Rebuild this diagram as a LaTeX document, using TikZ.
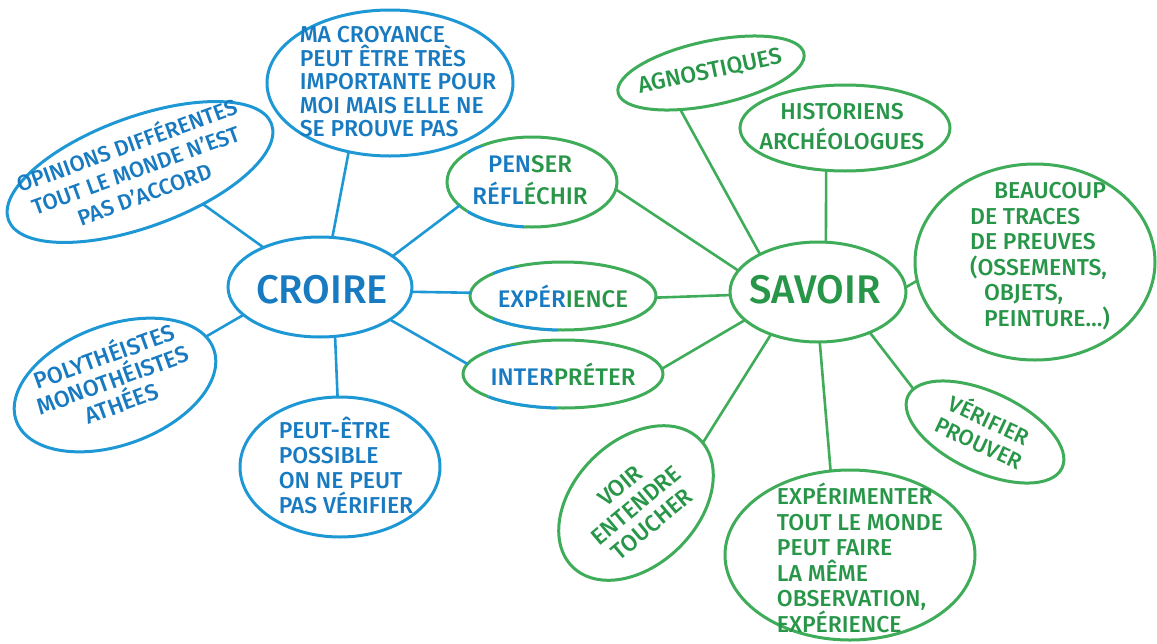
\documentclass[tikz,border=0pt]{standalone}
\usepackage{fontspec}
\setmainfont{Fira Sans}[UprightFont={* Medium}]
\usetikzlibrary{shapes.geometric}

\definecolor{cblue}{RGB}{30,152,212}
\definecolor{cgreen}{RGB}{62,172,88}
\definecolor{tblue}{RGB}{24,122,192}
\definecolor{tgreen}{RGB}{40,150,72}

\tikzset{
  ell/.style={ellipse, line width=3pt, inner sep=0pt, outer sep=0pt, fill=white},
  bl/.style={ell, draw=cblue},
  gr/.style={ell, draw=cgreen},
  txt/.style={inner sep=0pt, align=center, font=\fontsize{23}{26}\selectfont},
  tb/.style={txt, text=tblue},
  tg/.style={txt, text=tgreen},
  big/.style={font=\fontsize{40}{44}\selectfont},
  blink/.style={draw=cblue, line width=2.6pt, line cap=round},
  glink/.style={draw=cgreen, line width=2.6pt, line cap=round},
}

\begin{document}
\begin{tikzpicture}[x=1pt, y=-1pt]
\useasboundingbox (0,0) rectangle (1157,643);

% ---- CROIRE side ----
\node[bl, minimum width=184, minimum height=100] (croire) at (320,287) {};
\node[bl, minimum width=280, minimum height=110, rotate=20] (opin) at (140,172) {};
\node[bl, minimum width=246, minimum height=146] (croy) at (390,83) {};
\node[bl, minimum width=210, minimum height=120, rotate=20] (poly) at (115,385) {};
\node[bl, minimum width=200, minimum height=140] (peut) at (340,467) {};

% ---- shared nodes, half blue and half green ----
\node[gr, minimum width=170, minimum height=90] (penser) at (532,182) {};
\begin{scope}
  \clip ([shift={(-4pt,4pt)}]penser.north west) rectangle ([shift={(-8pt,-4pt)}]penser.south);
  \node[bl, minimum width=170, minimum height=90] (penserL) at (penser) {};
\end{scope}
\node[gr, minimum width=186, minimum height=68] (exper) at (563,296) {};
\begin{scope}
  \clip ([shift={(-4pt,4pt)}]exper.north west) rectangle ([shift={(-5pt,-4pt)}]exper.south);
  \node[bl, minimum width=186, minimum height=68] (experL) at (exper) {};
\end{scope}
\node[gr, minimum width=200, minimum height=68] (interp) at (563,374) {};
\begin{scope}
  \clip ([shift={(-4pt,4pt)}]interp.north west) rectangle ([shift={(-6pt,-4pt)}]interp.south);
  \node[bl, minimum width=200, minimum height=68] (interpL) at (interp) {};
\end{scope}

% ---- SAVOIR side ----
\node[gr, minimum width=176, minimum height=100] (savoir) at (818,292) {};
\node[gr, minimum width=190, minimum height=64, rotate=12] (agn) at (711,73) {};
\node[gr, minimum width=210, minimum height=86] (hist) at (845,128) {};
\node[gr, minimum width=240, minimum height=196] (beau) at (1035,262) {};
\node[gr, minimum width=170, minimum height=80, rotate=-25] (verif) at (985,432) {};
\node[gr, minimum width=180, minimum height=124, rotate=45] (voir) at (636,503) {};
\node[gr, minimum width=250, minimum height=170] (experim) at (850,555) {};

% ---- connectors ----
\draw[blink] (croire.145.6) -- (opin.-47);
\draw[blink] (croire.76.5) -- (croy.-121);
\draw[blink] (croire.23.6) -- (penser.198);
\draw[blink] (croire.-3) -- (exper.178);
\draw[blink] (croire.-25) -- (interp.174);
\draw[blink] (croire.-73) -- (peut.92);
\draw[blink] (croire.200.6) -- (poly.8.6);

\draw[glink] (savoir.81.5) -- (hist.-114);
\draw[glink] (savoir.147) -- (agn.218);
\draw[glink] (savoir.165) -- (penser.-5.5);
\draw[glink] (savoir.182) -- (exper.-1);
\draw[glink] (savoir.201.5) -- (interp.3);
\draw[glink] (savoir.222) -- (voir.-3);
\draw[glink] (savoir.-88) -- (experim.103.5);
\draw[glink] (savoir.-38) -- (verif.174);
\draw[glink] (savoir.3) -- (beau.189.6);

% ---- texts ----
\node[tb, big] (croire-t) at (322,290) {CROIRE};
\node[tb, rotate=20, font=\fontsize{22}{26}\selectfont] (opin-t) at (135,168) {OPINIONS DIFFÉRENTES\\TOUT LE MONDE N’EST\\PAS D’ACCORD};
\node[tb, align=left, font=\fontsize{23}{23.5}\selectfont] (croy-t) at (398,82) {MA CROYANCE\\PEUT ÊTRE TRÈS\\IMPORTANTE POUR\\MOI MAIS ELLE NE\\SE PROUVE PAS};
\node[tb, rotate=20, font=\fontsize{23}{25}\selectfont] (poly-t) at (112,378) {POLYTHÉISTES\\MONOTHÉISTES\\ATHÉES};
\node[tb, align=left, font=\fontsize{23}{25}\selectfont] (peut-t) at (346,465) {PEUT-ÊTRE\\POSSIBLE\\ON NE PEUT\\PAS VÉRIFIER};

\node[txt, font=\fontsize{24}{32}\selectfont] (penser-t) at (530,180)
  {\textcolor{tblue}{PEN}\textcolor{tgreen}{SER}\\\textcolor{tblue}{RÉFL}\textcolor{tgreen}{ÉCHIR}};
\node[txt, font=\fontsize{24}{27}\selectfont] (exper-t) at (563,296)
  {\textcolor{tblue}{EXPÉR}\textcolor{tgreen}{IENCE}};
\node[txt, font=\fontsize{24}{27}\selectfont] (interp-t) at (563,374)
  {\textcolor{tblue}{INTER}\textcolor{tgreen}{PRÉTER}};

\node[tg, big] (savoir-t) at (815,290) {SAVOIR};
\node[tg, rotate=12, font=\fontsize{23}{25}\selectfont] (agn-t) at (710,72) {AGNOSTIQUES};
\node[tg, font=\fontsize{23}{30}\selectfont] (hist-t) at (842,127) {HISTORIENS\\ARCHÉOLOGUES};
\node[tg, align=left, font=\fontsize{23}{25.5}\selectfont] (beau-t) at (1040,256)
  {\hspace*{24pt}BEAUCOUP\\DE TRACES\\DE PREUVES\\(OSSEMENTS,\\\hspace*{14pt}OBJETS,\\\hspace*{14pt}PEINTURE…)};
\node[tg, rotate=-25, font=\fontsize{22}{25}\selectfont] (verif-t) at (985,430) {VÉRIFIER\\PROUVER};
\node[tg, rotate=40, font=\fontsize{23}{25}\selectfont] (voir-t) at (636,505) {VOIR\\ENTENDRE\\TOUCHER};
\node[tg, align=left, font=\fontsize{23}{25.5}\selectfont] (experim-t) at (860,558)
  {EXPÉRIMENTER\\TOUT LE MONDE\\PEUT FAIRE\\LA MÊME\\OBSERVATION,\\EXPÉRIENCE};
\end{tikzpicture}
\end{document}
